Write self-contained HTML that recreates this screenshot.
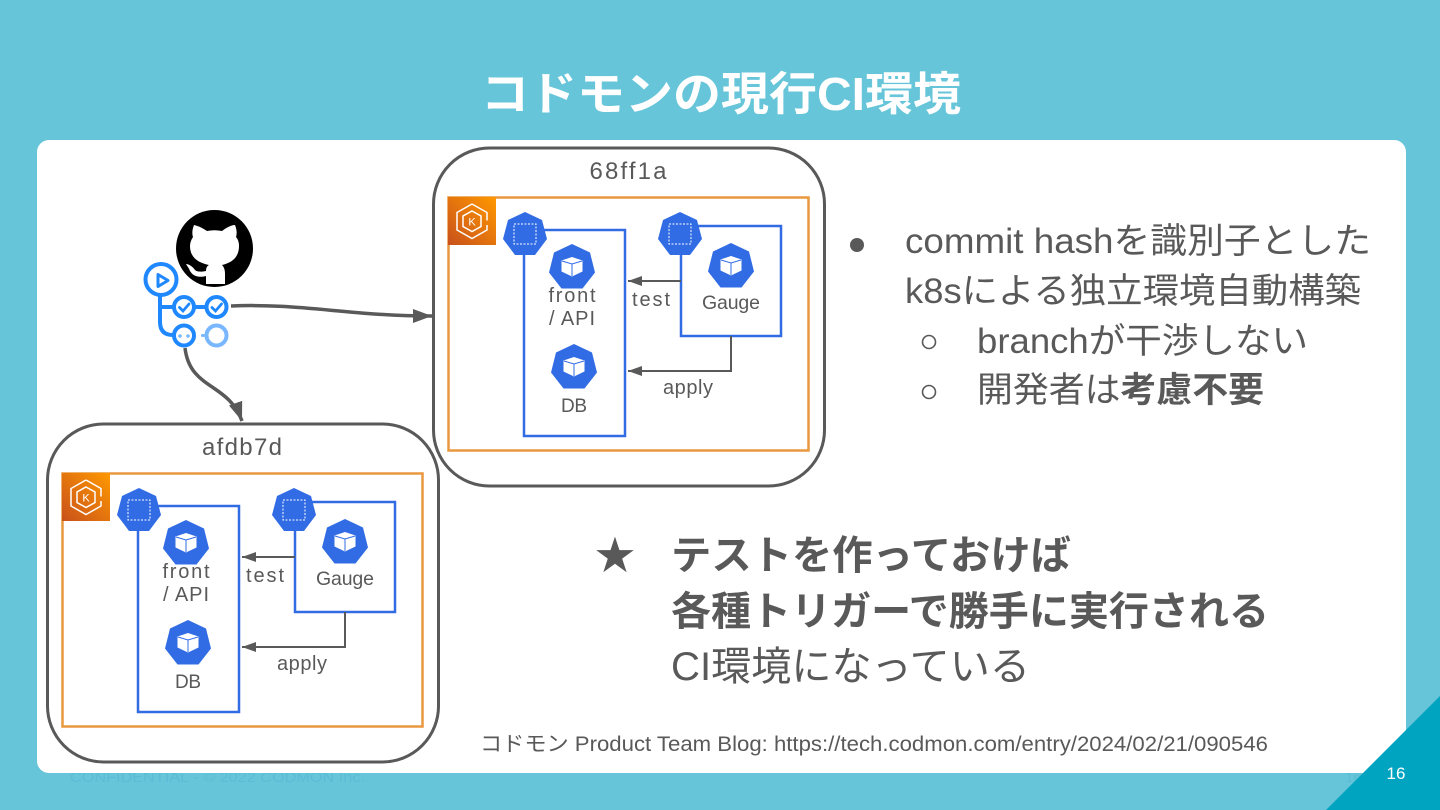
<!DOCTYPE html>
<html lang="ja"><head><meta charset="utf-8"><title>コドモンの現行CI環境</title>
<style>
html,body{margin:0;padding:0;background:#66c5d9}
svg{display:block}
text{font-family:"Liberation Sans","Noto Sans CJK JP",sans-serif;fill:#595959}
</style></head><body>
<svg width="1440" height="810" viewBox="0 0 1440 810" xmlns="http://www.w3.org/2000/svg">
<defs>
<linearGradient id="aws" x1="0" y1="1" x2="1" y2="0"><stop offset="0" stop-color="#c8511b"/><stop offset="1" stop-color="#ff9900"/></linearGradient>
<marker id="ah" markerUnits="userSpaceOnUse" markerWidth="20" markerHeight="16" refX="19" refY="8" orient="auto"><path d="M0 1L19 8L0 15Z" fill="#595959"/></marker>
<marker id="as" markerUnits="userSpaceOnUse" markerWidth="15" markerHeight="12" refX="14" refY="5" orient="auto"><path d="M0 0L14 5L0 10Z" fill="#595959"/></marker>
</defs>
<rect width="1440" height="810" fill="#66c5d9"/>
<text x="721" y="110" text-anchor="middle" font-size="46" font-weight="700" style="fill:#fff" textLength="480" lengthAdjust="spacingAndGlyphs">コドモンの現行CI環境</text>
<text x="70" y="782" font-size="15" style="fill:#5cbcd5" textLength="295" lengthAdjust="spacingAndGlyphs">CONFIDENTIAL - © 2022 CODMON Inc.</text>
<text x="1345" y="782" font-size="15" style="fill:#5cbcd5">16</text>
<rect x="37" y="140" width="1369" height="633" rx="12" fill="#fff"/>
<path d="M1440 696V810H1326Z" fill="#00a3c0"/>
<text x="1396" y="779" text-anchor="middle" font-size="17" style="fill:#fff">16</text>

<!-- top cluster -->
<g>
<rect x="433.500" y="148" width="391" height="338" rx="56" fill="#fff" stroke="#595959" stroke-width="3"/>
<text x="628" y="179" text-anchor="middle" font-size="24" textLength="77" lengthAdjust="spacing">68ff1a</text>
<rect x="448.500" y="197.500" width="360" height="253" fill="none" stroke="#e8983e" stroke-width="2.500"/>
<rect x="448" y="197" width="48" height="48" fill="url(#aws)"/>
<path d="M472 204l15 8.500v8M487 225v5l-15 8.500-15-8.500v-17.500l15-8.500M472 211l9 5v10.500l-9 5-9-5v-10.500z" fill="none" stroke="#fff" stroke-width="1.500"/>
<text x="472" y="225.500" text-anchor="middle" font-size="11" style="fill:#fff">K</text>
<rect x="524" y="230" width="101" height="206" fill="none" stroke="#326ce5" stroke-width="2.500"/>
<rect x="681" y="226" width="100" height="110" fill="none" stroke="#326ce5" stroke-width="2.500"/>
<path d="M525 212l17 8 5 19-12 16h-20l-12-16 5-19z" fill="#326ce5"/>
<rect x="514" y="224" width="22" height="20" fill="none" stroke="#fff" stroke-width="1" stroke-dasharray="2 1.500"/>
<path d="M680 212l17 8 5 19-12 16h-20l-12-16 5-19z" fill="#326ce5"/>
<rect x="669" y="224" width="22" height="20" fill="none" stroke="#fff" stroke-width="1" stroke-dasharray="2 1.500"/>
<path d="M572 244l18 8.500 5 20-12.500 16h-21l-12.500-16 5-20z" fill="#326ce5"/>
<path d="M572 257l10.500 3.500v11l-10.500 5-10.500-5v-11z" fill="#fff"/><path d="M562 261l10 3 10-3M572 264v12" fill="none" stroke="#326ce5" stroke-width="1"/>
<path d="M731 243l18 8.500 5 20-12.500 16h-21l-12.500-16 5-20z" fill="#326ce5"/>
<path d="M731 256l10.500 3.500v11l-10.500 5-10.500-5v-11z" fill="#fff"/><path d="M721 260l10 3 10-3M731 263v12" fill="none" stroke="#326ce5" stroke-width="1"/>
<path d="M574 344l18 8.500 5 20-12.500 16h-21l-12.500-16 5-20z" fill="#326ce5"/>
<path d="M574 357l10.500 3.500v11l-10.500 5-10.500-5v-11z" fill="#fff"/><path d="M564 361l10 3 10-3M574 364v12" fill="none" stroke="#326ce5" stroke-width="1"/>
<text x="572" y="302" text-anchor="middle" font-size="20" textLength="47" lengthAdjust="spacing">front</text>
<text x="572" y="325" text-anchor="middle" font-size="20" textLength="46" lengthAdjust="spacing">/ API</text>
<text x="574" y="412" text-anchor="middle" font-size="19" textLength="26" lengthAdjust="spacing">DB</text>
<text x="731" y="309" text-anchor="middle" font-size="19.500" textLength="58" lengthAdjust="spacing">Gauge</text>
<text x="651" y="306" text-anchor="middle" font-size="20" textLength="38" lengthAdjust="spacing">test</text>
<text x="688" y="394" text-anchor="middle" font-size="20" textLength="50" lengthAdjust="spacing">apply</text>
<path d="M681 281H628" fill="none" stroke="#595959" stroke-width="2" marker-end="url(#as)"/>
<path d="M731 336V371H628" fill="none" stroke="#595959" stroke-width="2" marker-end="url(#as)"/>
</g>

<!-- bottom cluster -->
<g transform="translate(-386 276)">
<rect x="433.500" y="148" width="391" height="338" rx="56" fill="#fff" stroke="#595959" stroke-width="3"/>
<text x="628" y="179" text-anchor="middle" font-size="24" textLength="80" lengthAdjust="spacing">afdb7d</text>
<rect x="448.500" y="197.500" width="360" height="253" fill="none" stroke="#e8983e" stroke-width="2.500"/>
<rect x="448" y="197" width="48" height="48" fill="url(#aws)"/>
<path d="M472 204l15 8.500v8M487 225v5l-15 8.500-15-8.500v-17.500l15-8.500M472 211l9 5v10.500l-9 5-9-5v-10.500z" fill="none" stroke="#fff" stroke-width="1.500"/>
<text x="472" y="225.500" text-anchor="middle" font-size="11" style="fill:#fff">K</text>
<rect x="524" y="230" width="101" height="206" fill="none" stroke="#326ce5" stroke-width="2.500"/>
<rect x="681" y="226" width="100" height="110" fill="none" stroke="#326ce5" stroke-width="2.500"/>
<path d="M525 212l17 8 5 19-12 16h-20l-12-16 5-19z" fill="#326ce5"/>
<rect x="514" y="224" width="22" height="20" fill="none" stroke="#fff" stroke-width="1" stroke-dasharray="2 1.500"/>
<path d="M680 212l17 8 5 19-12 16h-20l-12-16 5-19z" fill="#326ce5"/>
<rect x="669" y="224" width="22" height="20" fill="none" stroke="#fff" stroke-width="1" stroke-dasharray="2 1.500"/>
<path d="M572 244l18 8.500 5 20-12.500 16h-21l-12.500-16 5-20z" fill="#326ce5"/>
<path d="M572 257l10.500 3.500v11l-10.500 5-10.500-5v-11z" fill="#fff"/><path d="M562 261l10 3 10-3M572 264v12" fill="none" stroke="#326ce5" stroke-width="1"/>
<path d="M731 243l18 8.500 5 20-12.500 16h-21l-12.500-16 5-20z" fill="#326ce5"/>
<path d="M731 256l10.500 3.500v11l-10.500 5-10.500-5v-11z" fill="#fff"/><path d="M721 260l10 3 10-3M731 263v12" fill="none" stroke="#326ce5" stroke-width="1"/>
<path d="M574 344l18 8.500 5 20-12.500 16h-21l-12.500-16 5-20z" fill="#326ce5"/>
<path d="M574 357l10.500 3.500v11l-10.500 5-10.500-5v-11z" fill="#fff"/><path d="M564 361l10 3 10-3M574 364v12" fill="none" stroke="#326ce5" stroke-width="1"/>
<text x="572" y="302" text-anchor="middle" font-size="20" textLength="47" lengthAdjust="spacing">front</text>
<text x="572" y="325" text-anchor="middle" font-size="20" textLength="46" lengthAdjust="spacing">/ API</text>
<text x="574" y="412" text-anchor="middle" font-size="19" textLength="26" lengthAdjust="spacing">DB</text>
<text x="731" y="309" text-anchor="middle" font-size="19.500" textLength="58" lengthAdjust="spacing">Gauge</text>
<text x="651" y="306" text-anchor="middle" font-size="20" textLength="38" lengthAdjust="spacing">test</text>
<text x="688" y="394" text-anchor="middle" font-size="20" textLength="50" lengthAdjust="spacing">apply</text>
<path d="M681 281H628" fill="none" stroke="#595959" stroke-width="2" marker-end="url(#as)"/>
<path d="M731 336V371H628" fill="none" stroke="#595959" stroke-width="2" marker-end="url(#as)"/>
</g>

<!-- GitHub mark -->
<circle cx="214.500" cy="248.500" r="38.500" fill="#000"/>
<path d="M194 225C199 226 204 229 207 231C212 230 217 230 222 231C226 228 231 225 235 225C237 230 237 234 236 237C238.500 240 239 243 239 246C239 258 231 263 222 265C224 267 225 270 225 274V284H206V276C198 278 193 276 190 271C189 268 187 266 186 264C189 264 193 267 195 270C197 272 201 272 206 271C206 268 207 266 209 265C199 263 190 258 190 246C190 243 191 240 193 237C192 234 192 230 194 225Z" fill="#fff"/>

<!-- connectors -->
<path d="M231 306C300 303 350 316 432 316" fill="none" stroke="#595959" stroke-width="3.500" marker-end="url(#ah)"/>
<path d="M185 348C190 390 228 382 242 421" fill="none" stroke="#595959" stroke-width="3.500" marker-end="url(#ah)"/>

<!-- Actions icon -->
<g fill="none" stroke="#2088ff" stroke-width="4">
<path d="M160 296V322Q160 335 173 335M160 307H173M195 307H206" stroke-linecap="round"/>
<circle cx="161" cy="279.500" r="15.500"/>
<path d="M158 274.500L168 280.500L158 286.500Z" stroke-linejoin="round" stroke-width="3"/>
<circle cx="184" cy="307" r="10"/><circle cx="216.500" cy="307" r="10"/>
<circle cx="184" cy="335.500" r="10"/>
<circle cx="216.500" cy="335.500" r="10" stroke="#79b8ff"/>
<path d="M179.500 307.500l3.500 3.500 6-7M212 307.500l3.500 3.500 6-7" stroke-width="2.800" stroke-linecap="round"/>
<path d="M202.500 335.500h1" stroke="#79b8ff" stroke-width="3" stroke-linecap="round"/>
</g>
<circle cx="180" cy="336" r="1.800" fill="#79b8ff"/><circle cx="188" cy="336" r="1.800" fill="#79b8ff"/>

<!-- bullets -->
<circle cx="857" cy="245" r="7" fill="#595959"/>
<text x="905" y="253" font-size="35" textLength="466" lengthAdjust="spacingAndGlyphs">commit hashを識別子とした</text>
<text x="905" y="303" font-size="35" textLength="456" lengthAdjust="spacingAndGlyphs">k8sによる独立環境自動構築</text>
<circle cx="929" cy="342" r="6.500" fill="none" stroke="#595959" stroke-width="1.600"/>
<text x="977" y="353" font-size="35" textLength="331" lengthAdjust="spacingAndGlyphs">branchが干渉しない</text>
<circle cx="929" cy="392" r="6.500" fill="none" stroke="#595959" stroke-width="1.600"/>
<text x="977" y="402" font-size="35" textLength="287" lengthAdjust="spacingAndGlyphs">開発者は<tspan font-weight="700">考慮不要</tspan></text>

<text x="593" y="572" font-size="49" style="font-family:'DejaVu Sans',sans-serif">★</text>
<text x="671" y="569" font-size="40" font-weight="700" textLength="400" lengthAdjust="spacingAndGlyphs">テストを作っておけば</text>
<text x="671" y="625" font-size="40" font-weight="700" textLength="598" lengthAdjust="spacingAndGlyphs">各種トリガーで勝手に実行される</text>
<text x="671" y="680" font-size="40" textLength="359" lengthAdjust="spacingAndGlyphs">CI環境になっている</text>
<text x="480" y="751" font-size="21" textLength="788" lengthAdjust="spacingAndGlyphs">コドモン Product Team Blog: https://tech.codmon.com/entry/2024/02/21/090546</text>
</svg>
</body></html>
